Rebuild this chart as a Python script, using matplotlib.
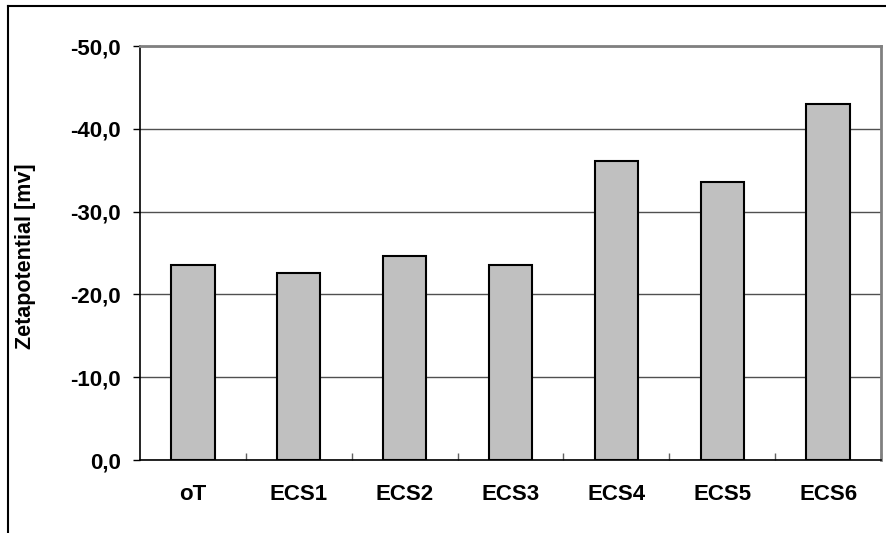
import matplotlib
matplotlib.use("Agg")
import matplotlib.pyplot as plt
from matplotlib.ticker import FuncFormatter, FixedLocator
from matplotlib.lines import Line2D

categories = ["oT", "ECS1", "ECS2", "ECS3", "ECS4", "ECS5", "ECS6"]
zeta_mv = [-23.5, -22.6, -24.6, -23.5, -36.1, -33.6, -43.0]
y_ticks = [0, -10, -20, -30, -40, -50]

plt.rcParams["font.family"] = ["Liberation Sans", "DejaVu Sans"]
plt.rcParams["font.weight"] = "bold"

fig = plt.figure(figsize=(8.86, 5.33), dpi=100)
ax = fig.add_axes([140 / 886, 1 - 460 / 533, 741 / 886, 414 / 533])

x = list(range(len(categories)))
ax.bar(x, zeta_mv, width=0.41, color="#c0c0c0", edgecolor="black",
       linewidth=1.5, zorder=3)

ax.set_xlim(-0.5, len(categories) - 0.5)
ax.set_ylim(0, -50)
ax.set_yticks(y_ticks)
ax.yaxis.set_major_formatter(FuncFormatter(lambda v, p: f"{v:.1f}".replace(".", ",")))
ax.yaxis.grid(True, color="#505050", linewidth=1, zorder=0)
ax.set_axisbelow(True)

ax.set_xticks(x)
ax.set_xticklabels(categories)
ax.xaxis.set_minor_locator(FixedLocator([i + 0.5 for i in range(len(categories))]))
ax.tick_params(axis="x", which="major", length=0, pad=17, labelsize=16)
ax.tick_params(axis="x", which="minor", direction="in", length=5, width=1, color="#606060")
ax.tick_params(axis="y", which="major", direction="out", length=5, width=1,
               pad=9, labelsize=16)

for side in ("top", "right"):
    ax.spines[side].set_color("#808080")
    ax.spines[side].set_linewidth(2)
for side in ("left", "bottom"):
    ax.spines[side].set_color("black")
    ax.spines[side].set_linewidth(1.2)

ax.set_ylabel("Zetapotential [mv]", fontsize=15.5, fontweight="bold")
ax.yaxis.label.set_va("center")
ax.yaxis.set_label_coords(-0.155, 0.493)

# outer chart frame
fig.add_artist(Line2D([7.5 / 886, 7.5 / 886], [0, 1 - 6 / 533], color="black",
                      linewidth=1.5, transform=fig.transFigure))
fig.add_artist(Line2D([7.5 / 886, 1], [1 - 6 / 533, 1 - 6 / 533], color="black",
                      linewidth=1.5, transform=fig.transFigure))

fig.savefig("out.png", dpi=100)
